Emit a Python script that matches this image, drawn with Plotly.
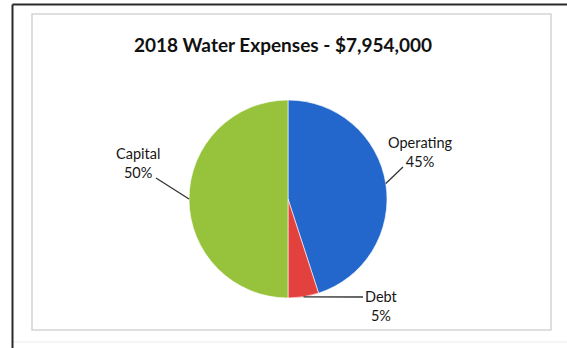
import math
import plotly.graph_objects as go

# Expense breakdown
categories = ["Operating", "Debt", "Capital"]
shares = [45, 5, 50]
colors = ["#2367cc", "#e2413d", "#96c33b"]
title_text = "2018 Water Expenses - $7,954,000"

W, H = 567, 348
FONT = "Lato, 'Noto Sans', sans-serif"

# pie geometry in pixels
cx, cy, r = 288, 199, 99


def px(x):
    return x / W


def py(y):
    return 1 - y / H


fig = go.Figure(
    go.Pie(
        labels=categories,
        values=shares,
        sort=False,
        direction="clockwise",
        rotation=0,
        marker=dict(colors=colors, line=dict(color="white", width=0.6)),
        textinfo="none",
        hoverinfo="label+percent",
        showlegend=False,
        domain=dict(x=[px(cx - r), px(cx + r)], y=[py(cy + r), py(cy - r)]),
    )
)

# label anchor (text centre) and leader-line start near the text
label_pos = {
    "Operating": dict(x=420, y=152, lx=403, ly=167),
    "Debt": dict(x=381, y=306, lx=363, ly=297),
    "Capital": dict(x=138, y=163, lx=156, ly=178),
}

total = sum(shares)
cum = 0
shapes = []
annotations = []
for name, val in zip(categories, shares):
    mid = (cum + val / 2) / total * 2 * math.pi
    cum += val
    ex = cx + r * math.sin(mid)
    ey = cy - r * math.cos(mid)
    p = label_pos[name]
    shapes.append(
        dict(
            type="line", xref="paper", yref="paper",
            x0=px(p["lx"]), y0=py(p["ly"]), x1=px(ex), y1=py(ey),
            line=dict(color="#333333", width=1.3),
        )
    )
    pct = round(val / total * 100)
    annotations.append(
        dict(
            x=px(p["x"]), y=py(p["y"]), xref="paper", yref="paper",
            text=f"{name}<br>{pct}%", showarrow=False,
            font=dict(family=FONT, size=14.5, color="#161616"),
            align="center", xanchor="center", yanchor="middle",
        )
    )

annotations.append(
    dict(
        x=px(283), y=py(45), xref="paper", yref="paper",
        text=f"<b>{title_text}</b>", showarrow=False,
        font=dict(family=FONT, size=19, color="#111111"),
        xanchor="center", yanchor="middle",
    )
)

# outer frame (dark, left and top) and inner chart-area border (light grey)
shapes += [
    dict(type="line", xref="paper", yref="paper", x0=px(12.5), y0=py(4.5), x1=1, y1=py(4.5),
         line=dict(color="#2a2a2a", width=2)),
    dict(type="line", xref="paper", yref="paper", x0=px(12.5), y0=py(4.5), x1=px(12.5), y1=0,
         line=dict(color="#2a2a2a", width=2)),
    dict(type="rect", xref="paper", yref="paper", x0=px(32), y0=py(330), x1=px(551), y1=py(14),
         line=dict(color="#d4d4d4", width=1.5)),
    dict(type="line", xref="paper", yref="paper", x0=px(14), y0=py(342), x1=1, y1=py(342),
         line=dict(color="#ececec", width=1)),
]

fig.update_layout(
    width=W, height=H,
    margin=dict(l=0, r=0, t=0, b=0),
    paper_bgcolor="white",
    plot_bgcolor="white",
    shapes=shapes,
    annotations=annotations,
)

fig.write_html("out.html")
